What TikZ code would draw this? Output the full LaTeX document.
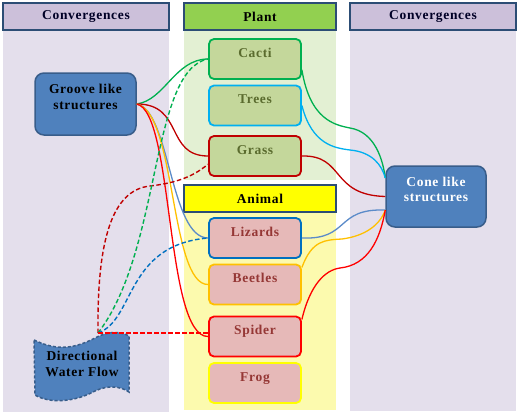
\documentclass[tikz,border=0pt]{standalone}
\usepackage{fontspec}
\setmainfont{Liberation Serif}
\newfontfamily\lblfont{Liberation Serif}[LetterSpace=5]
\usetikzlibrary{calc}
\definecolor{panelLav}{HTML}{E4DFEC}
\definecolor{hdrLav}{HTML}{CCC0DA}
\definecolor{hdrLine}{HTML}{2C4D75}
\definecolor{plantHdr}{HTML}{92D050}
\definecolor{animalHdr}{HTML}{FFFF00}
\definecolor{greenPanel}{HTML}{E3F0D3}
\definecolor{yellowPanel}{HTML}{FCFAAE}
\definecolor{plantFill}{HTML}{C4D79B}
\definecolor{animalFill}{HTML}{E6B9B8}
\definecolor{plantText}{HTML}{5A6B2E}
\definecolor{animalText}{HTML}{953735}
\definecolor{boxBlue}{HTML}{4F81BD}
\definecolor{boxBlueLine}{HTML}{385D8A}
\definecolor{cGreen}{HTML}{00B050}
\definecolor{cCyan}{HTML}{00B0F0}
\definecolor{cDarkRed}{HTML}{C00000}
\definecolor{cBlue}{HTML}{0070C0}
\definecolor{cSteel}{HTML}{5B8BC9}
\definecolor{cOrange}{HTML}{FFC000}
\definecolor{cRed}{HTML}{FF0000}
\definecolor{cYellow}{HTML}{FFFF00}
\begin{document}
\begin{tikzpicture}[x=1pt,y=-1pt,
  font=\lblfont\bfseries\fontsize{13.5}{15.5}\selectfont,
  hdr/.style={draw=hdrLine, line width=1.6pt, minimum height=27pt, inner sep=0pt},
  item/.style={draw, rounded corners=5pt, line width=1.8pt, minimum width=92pt,
    minimum height=40pt, inner sep=0pt, text height=8.5pt, text depth=12.5pt},
  plantbox/.style={item, fill=plantFill, text=plantText},
  animalbox/.style={item, fill=animalFill, text=animalText},
  bigbox/.style={draw=boxBlueLine, fill=boxBlue, line width=1.5pt, rounded corners=9pt,
    minimum width=100pt, minimum height=61pt, inner sep=0pt},
  conn/.style={line width=1.3pt},
  dconn/.style={line width=1.4pt, dash pattern=on 4.5pt off 2.5pt}
]
\useasboundingbox (0,0) rectangle (520,415);
% panels
\fill[panelLav] (3,30) rectangle (169,412);
\fill[panelLav] (350,30) rectangle (516,411);
\fill[greenPanel] (184,30) rectangle (336,180);
\fill[yellowPanel] (184,212) rectangle (336,410);
% headers
\node[hdr, fill=hdrLav, minimum width=166pt, text=black!85!blue] (convL) at (86,16.5) {Convergences};
\node[hdr, fill=plantHdr, minimum width=152pt] (plant) at (260,16.5) {Plant};
\node[hdr, fill=hdrLav, minimum width=166pt, text=black!85!blue] (convR) at (433,16.5) {Convergences};
\node[hdr, fill=animalHdr, minimum width=152pt] (animal) at (260,198.5) {Animal};
% items
\node[plantbox, draw=cGreen] (cacti) at (255,59) {Cacti};
\node[plantbox, draw=cCyan] (trees) at (255,105.5) {Trees};
\node[plantbox, draw=cDarkRed] (grass) at (255,156) {Grass};
\node[animalbox, draw=cBlue] (lizards) at (255,238) {Lizards};
\node[animalbox, draw=cOrange] (beetles) at (255,284.5) {Beetles};
\node[animalbox, draw=cRed] (spider) at (255,336.5) {Spider};
\node[animalbox, draw=cYellow] (frog) at (255,383) {Frog};
% big boxes
\node[bigbox, minimum width=101pt, minimum height=62pt,
  label={[name=groovetext, align=center, yshift=7pt, text=black]center:Groove like\\structures}] (groove) at (85.5,104) {};
\node[bigbox,
  label={[name=conetext, align=center, yshift=7pt, text=white]center:Cone like\\structures}] (cone) at (436,196.5) {};
% water flow
\draw[fill=boxBlue, draw=boxBlueLine, line width=1.5pt, dash pattern=on 3pt off 2pt]
  (34,340) .. controls (55,350) and (72,350) .. (95,338)
  .. controls (110,330) and (122,332) .. (129,336) -- (129,392)
  .. controls (120,386) and (108,385) .. (95,391)
  .. controls (75,402) and (50,404) .. (35,395) -- cycle;
\node[align=center, text=black] (wf) at (82,364) {Directional\\Water Flow};
\coordinate (wftop) at (98,333);
% groove connectors
\draw[conn, cGreen] (groove.east) .. controls (165,100) and (175,59) .. (cacti.west);
\draw[conn, cDarkRed] (groove.east) .. controls (184,104) and (165,156) .. (grass.west);
\draw[conn, cSteel] (groove.east) .. controls (170,110) and (170,238) .. (lizards.west);
\draw[conn, cOrange] (groove.east) .. controls (176,112) and (170,285) .. (beetles.west);
\draw[conn, cRed] (groove.east) .. controls (174,112) and (165,337) .. (spider.west);
% water flow connectors
\draw[dconn, cDarkRed] (wftop) .. controls (97,240) and (112,190) .. (150,186)
  .. controls (185,182) and (198,172) .. (grass.190);
\draw[dconn, cGreen] (wftop) .. controls (162,250) and (150,70) .. (cacti.west);
\draw[dconn, cBlue] (wftop) .. controls (135,320) and (125,245) .. (lizards.west);
\draw[dconn, cRed] (wftop) -- (wftop -| spider.west);
% cone connectors
\draw[conn, cGreen] (cacti.-13) .. controls (310,120) and (335,125) .. (350,128)
  .. controls (375,132) and (383,160) .. (cone.160);
\draw[conn, cCyan] (trees.east) .. controls (312,145) and (335,148) .. (350,150)
  .. controls (372,152) and (382,165) .. (cone.160);
\draw[conn, cDarkRed] (grass.east) .. controls (345,155) and (330,195) .. (cone.west);
\draw[conn, cSteel] (lizards.east) .. controls (350,240) and (335,208) .. (cone.195);
\draw[conn, cOrange] (beetles.20) .. controls (312,240) and (325,240) .. (342,239)
  .. controls (365,236) and (380,225) .. (cone.195);
\draw[conn, cRed] (spider.20) .. controls (310,285) and (325,270) .. (340,268)
  .. controls (368,265) and (380,240) .. (cone.195);
\end{tikzpicture}
\end{document}
